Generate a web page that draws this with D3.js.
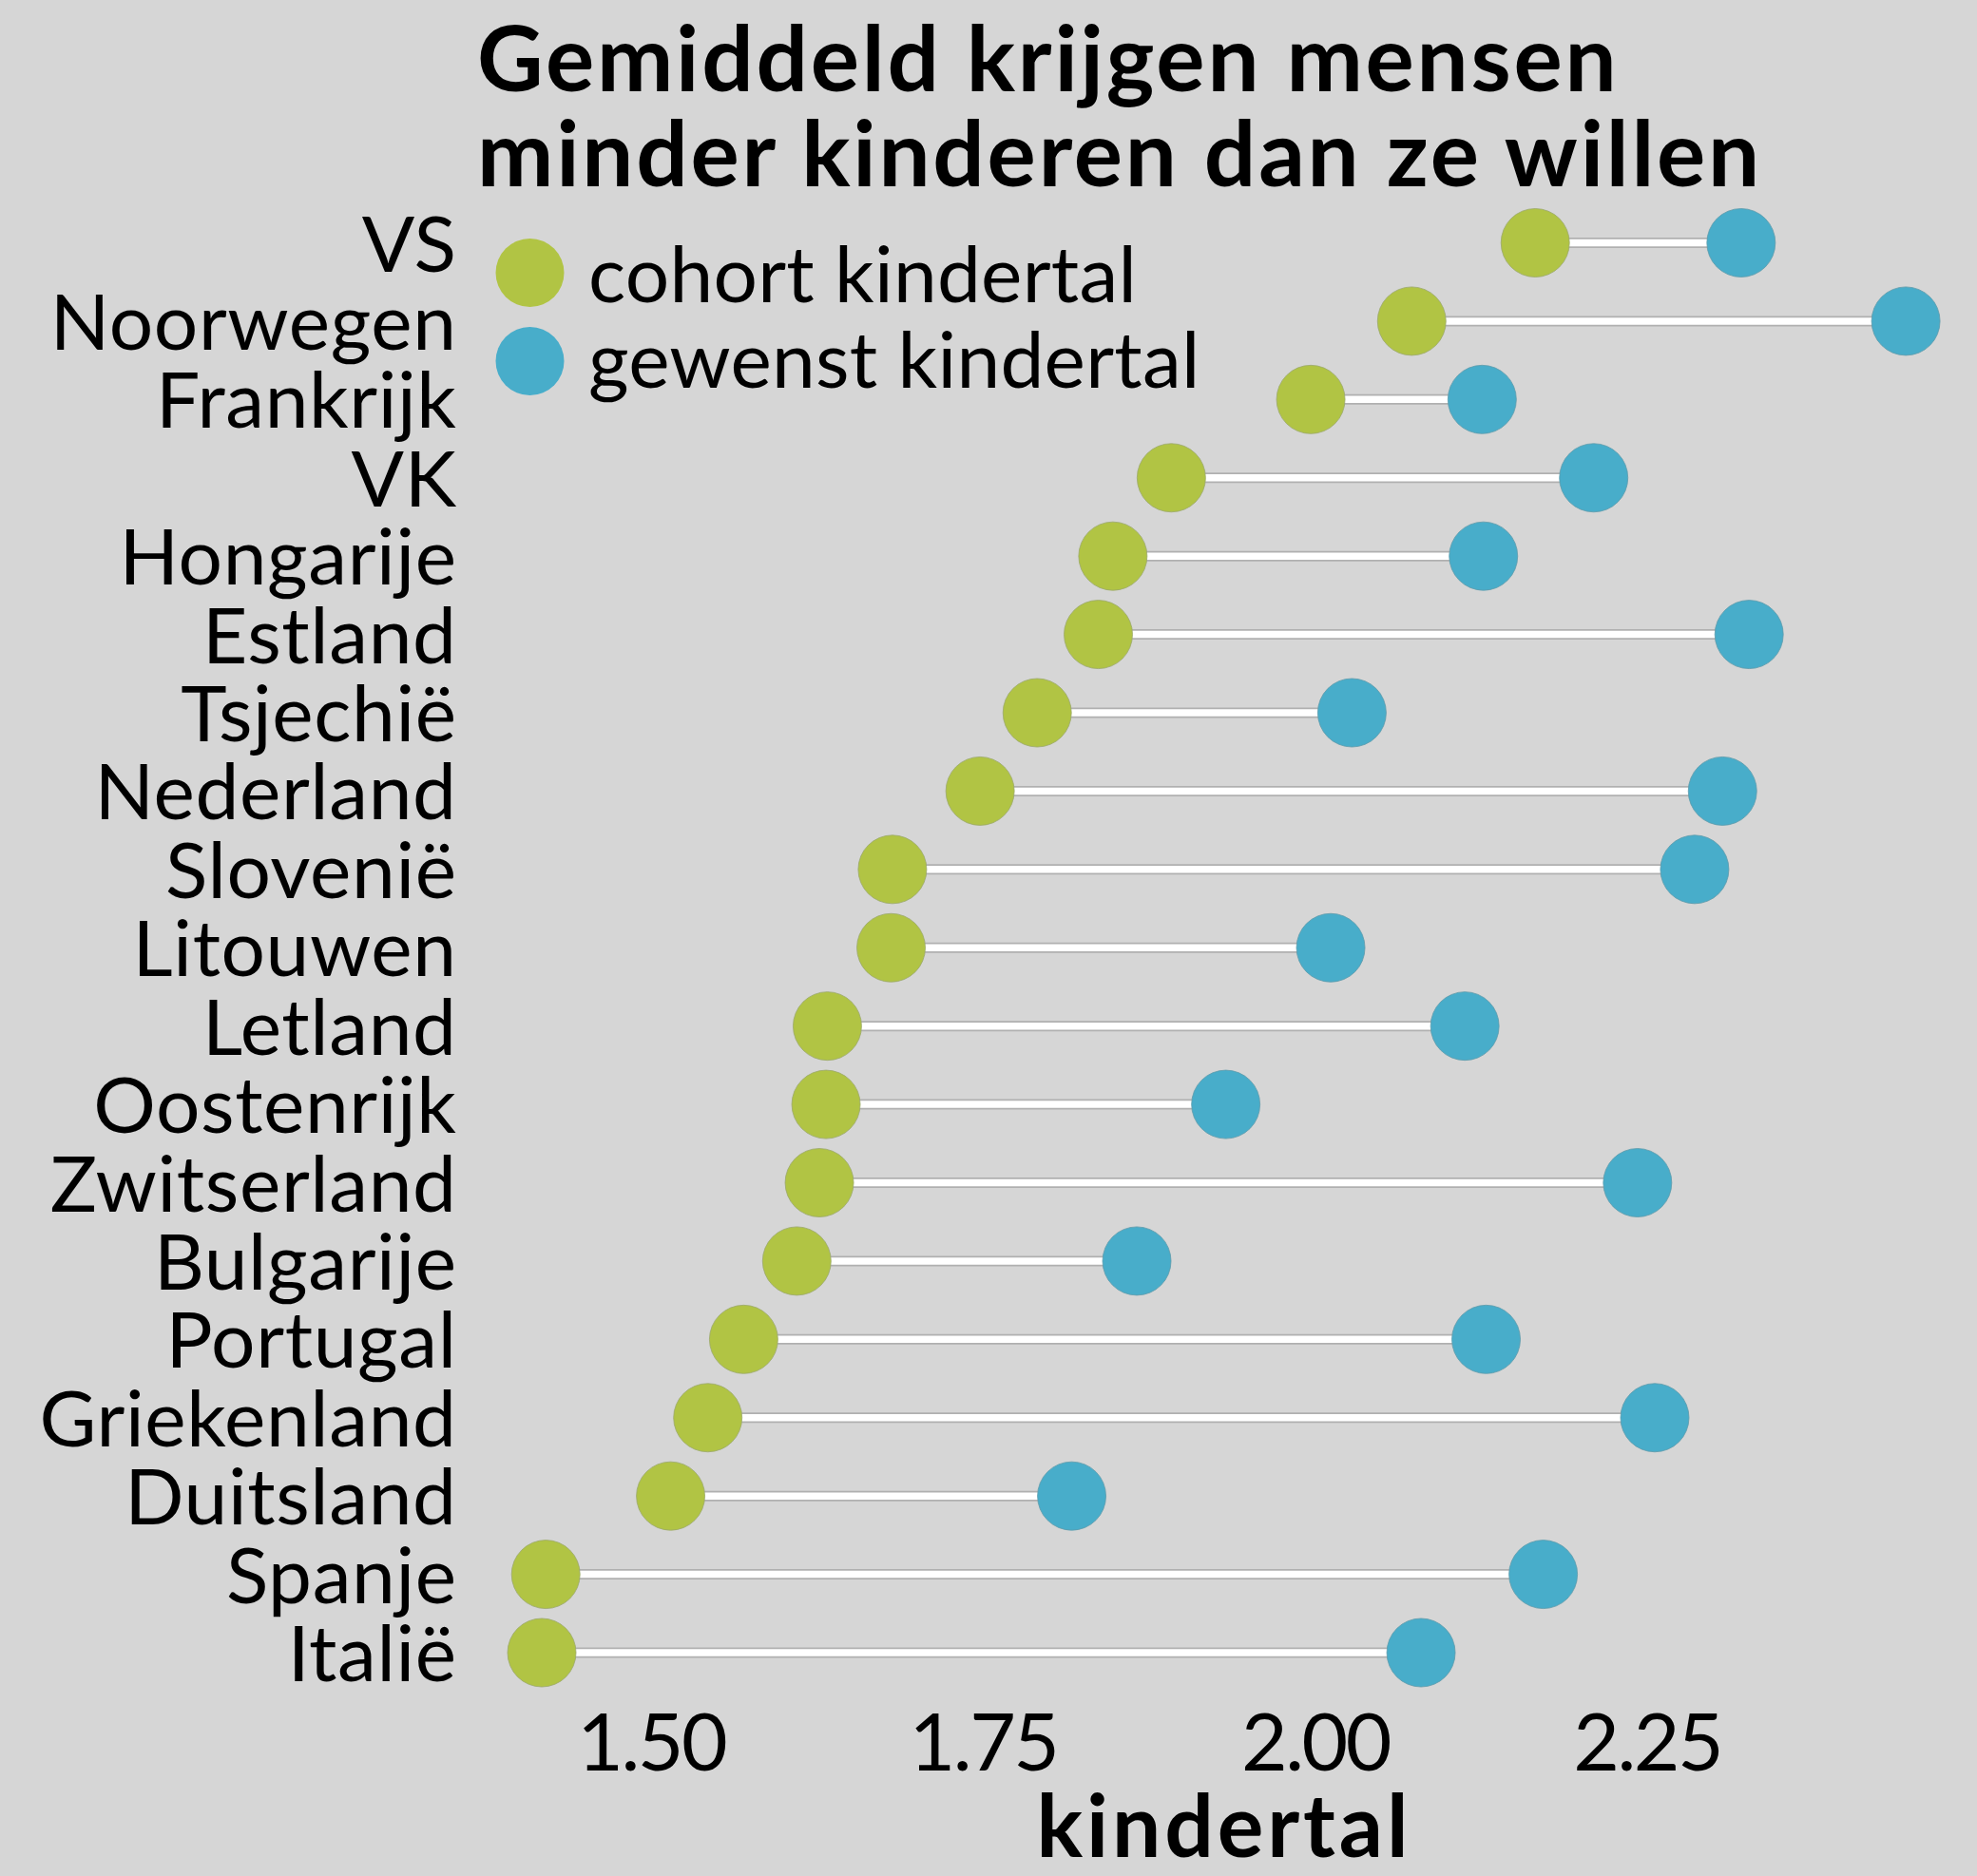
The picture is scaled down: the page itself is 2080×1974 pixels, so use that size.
<!DOCTYPE html>
<html>
<head>
<meta charset="utf-8">
<script src="https://cdn.jsdelivr.net/npm/d3@7"></script>
<style>
  html, body { margin: 0; padding: 0; background: #d6d6d6; overflow: hidden; }
  svg { display: block; }
  text { font-family: Lato, "Noto Sans", sans-serif; fill: #000; }
</style>
</head>
<body>
<script>
// ---- data ----
const countries = ["VS","Noorwegen","Frankrijk","VK","Hongarije","Estland","Tsjechië","Nederland","Slovenië","Litouwen","Letland","Oostenrijk","Zwitserland","Bulgarije","Portugal","Griekenland","Duitsland","Spanje","Italië"];
const cohortValues = [2.165, 2.072, 1.996, 1.891, 1.847, 1.836, 1.790, 1.747, 1.681, 1.680, 1.632, 1.631, 1.626, 1.609, 1.569, 1.542, 1.514, 1.420, 1.417];
const desiredValues = [2.320, 2.444, 2.125, 2.209, 2.126, 2.326, 2.027, 2.306, 2.285, 2.011, 2.112, 1.932, 2.242, 1.865, 2.128, 2.255, 1.816, 2.171, 2.079];
const xTicks = [1.50, 1.75, 2.00, 2.25];
const seriesNames = ["cohort kindertal", "gewenst kindertal"];
const seriesColors = ["#b1c444", "#48adca"];
const titleLines = ["Gemiddeld krijgen mensen", "minder kinderen dan ze willen"];
const xTitle = "kindertal";

// ---- layout ----
const W = 2080, H = 1974;
const svg = d3.select("body").append("svg").attr("width", W).attr("height", H);
svg.append("rect").attr("width", W).attr("height", H).attr("fill", "#d6d6d6");

const x = d3.scaleLinear().domain([1.5, 2.25]).range([686, 1734]);
const y = d3.scalePoint().domain(countries).range([255.5, 1739]);
const R = 36;

// letter-spacing so that str at font size fs has width target
function spacing(str, fs, weight, target) {
  const t = svg.append("text").attr("font-size", fs).attr("font-weight", weight).text(str);
  const w = t.node().getComputedTextLength();
  t.remove();
  return (target - w) / str.length;
}

// title
const titleFs = 96;
const titleLs = spacing(titleLines[1], titleFs, 700, 1352);
svg.selectAll("text.title").data(titleLines).enter().append("text")
  .attr("class", "title")
  .attr("x", 502).attr("y", (d, i) => 96 + i * 100)
  .attr("font-weight", 700).attr("font-size", titleFs)
  .attr("letter-spacing", titleLs)
  .text(d => d);

// y labels
const labelFs = 82;
const labelLs = spacing("Griekenland", labelFs, 400, 439);
const yAxis = svg.append("g").attr("transform", "translate(" + (480 + labelLs) + ",0)")
  .call(d3.axisLeft(y).tickSize(0).tickPadding(0));
yAxis.select(".domain").remove();
yAxis.selectAll("text")
  .attr("font-size", labelFs)
  .attr("font-family", "Lato, 'Noto Sans', sans-serif")
  .attr("letter-spacing", labelLs)
  .attr("fill", "#000")
  .attr("dy", null)
  .attr("y", labelFs * 0.36);

// x axis
const tickFs = 84;
const tickLs = spacing("2.00", tickFs, 400, 156);
const xAxis = svg.append("g").attr("transform", "translate(" + (tickLs / 2) + ",1863)")
  .call(d3.axisBottom(x).tickValues(xTicks).tickFormat(d3.format(".2f")).tickSize(0).tickPadding(0));
xAxis.select(".domain").remove();
xAxis.selectAll("text")
  .attr("font-size", tickFs)
  .attr("font-family", "Lato, 'Noto Sans', sans-serif")
  .attr("letter-spacing", tickLs)
  .attr("fill", "#000")
  .attr("dy", null)
  .attr("y", 0);

const axFs = 91;
const axLs = spacing(xTitle, axFs, 700, 395);
svg.append("text").attr("x", 1286 + axLs / 2).attr("y", 1954)
  .attr("text-anchor", "middle").attr("font-weight", 700).attr("font-size", axFs)
  .attr("letter-spacing", axLs)
  .text(xTitle);

// segments
const rows = countries.map((c, i) => ({c, a: cohortValues[i], b: desiredValues[i]}));
const seg = svg.append("g");
seg.selectAll("line.bg").data(rows).enter().append("line")
  .attr("x1", d => x(d.a)).attr("x2", d => x(d.b))
  .attr("y1", d => y(d.c)).attr("y2", d => y(d.c))
  .attr("stroke", "#b0b0b0").attr("stroke-width", 11);
seg.selectAll("line.fg").data(rows).enter().append("line")
  .attr("x1", d => x(d.a)).attr("x2", d => x(d.b))
  .attr("y1", d => y(d.c)).attr("y2", d => y(d.c))
  .attr("stroke", "#ffffff").attr("stroke-width", 7.5);

// dots
const dots = svg.append("g");
dots.selectAll("circle.c").data(rows).enter().append("circle")
  .attr("cx", d => x(d.a)).attr("cy", d => y(d.c)).attr("r", R)
  .attr("fill", seriesColors[0]).attr("stroke", "#9aa86a").attr("stroke-width", 0.8);
dots.selectAll("circle.d").data(rows).enter().append("circle")
  .attr("cx", d => x(d.b)).attr("cy", d => y(d.c)).attr("r", R)
  .attr("fill", seriesColors[1]).attr("stroke", "#5d9aab").attr("stroke-width", 0.8);

// legend
const legFs = 82;
const legLs = spacing(seriesNames[0], legFs, 400, 577);
const leg = svg.append("g");
const legY = [287, 380];
const legTextY = [318, 408];
seriesNames.forEach((n, i) => {
  leg.append("circle").attr("cx", 557.5).attr("cy", legY[i]).attr("r", R).attr("fill", seriesColors[i]);
  leg.append("text").attr("x", 619).attr("y", legTextY[i]).attr("font-size", legFs)
    .attr("letter-spacing", legLs).text(n);
});
</script>
</body>
</html>
